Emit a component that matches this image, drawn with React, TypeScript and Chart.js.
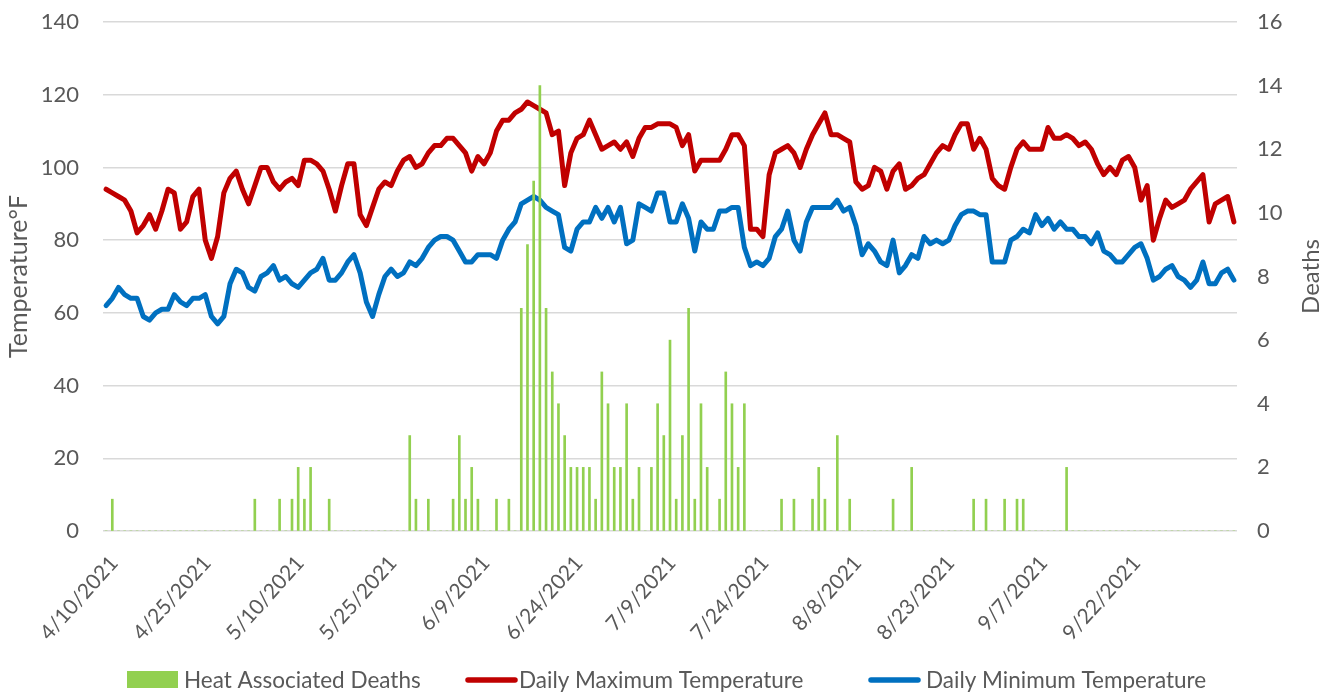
import React, { useEffect, useRef } from "react";
import { Chart, registerables } from "chart.js";

Chart.register(...registerables);

const START_DATE = "2021-04-10";
const NUM_DAYS = 183;

const TICK_LABELS = [
  "4/10/2021", "4/25/2021", "5/10/2021", "5/25/2021", "6/9/2021", "6/24/2021",
  "7/9/2021", "7/24/2021", "8/8/2021", "8/23/2021", "9/7/2021", "9/22/2021",
];

const DAILY_MAX = [
  94, 93, 92, 91, 88, 82, 84, 87, 83, 88,
  94, 93, 83, 85, 92, 94, 80, 75, 81, 93,
  97, 99, 94, 90, 95, 100, 100, 96, 94, 96,
  97, 95, 102, 102, 101, 99, 94, 88, 95, 101,
  101, 87, 84, 89, 94, 96, 95, 99, 102, 103,
  100, 101, 104, 106, 106, 108, 108, 106, 104, 99,
  103, 101, 104, 110, 113, 113, 115, 116, 118, 117,
  116, 115, 109, 110, 95, 104, 108, 109, 113, 109,
  105, 106, 107, 105, 107, 103, 108, 111, 111, 112,
  112, 112, 111, 106, 109, 99, 102, 102, 102, 102,
  105, 109, 109, 106, 83, 83, 81, 98, 104, 105,
  106, 104, 100, 105, 109, 112, 115, 109, 109, 108,
  107, 96, 94, 95, 100, 99, 94, 99, 101, 94,
  95, 97, 98, 101, 104, 106, 105, 109, 112, 112,
  105, 108, 105, 97, 95, 94, 100, 105, 107, 105,
  105, 105, 111, 108, 108, 109, 108, 106, 107, 105,
  101, 98, 100, 98, 102, 103, 100, 91, 95, 80,
  86, 91, 89, 90, 91, 94, 96, 98, 85, 90,
  91, 92, 85,
];

const DAILY_MIN = [
  62, 64, 67, 65, 64, 64, 59, 58, 60, 61,
  61, 65, 63, 62, 64, 64, 65, 59, 57, 59,
  68, 72, 71, 67, 66, 70, 71, 73, 69, 70,
  68, 67, 69, 71, 72, 75, 69, 69, 71, 74,
  76, 71, 63, 59, 65, 70, 72, 70, 71, 74,
  73, 75, 78, 80, 81, 81, 80, 77, 74, 74,
  76, 76, 76, 75, 80, 83, 85, 90, 91, 92,
  91, 89, 88, 87, 78, 77, 83, 85, 85, 89,
  86, 89, 85, 89, 79, 80, 90, 89, 88, 93,
  93, 85, 85, 90, 86, 77, 85, 83, 83, 88,
  88, 89, 89, 78, 73, 74, 73, 75, 81, 83,
  88, 80, 77, 85, 89, 89, 89, 89, 91, 88,
  89, 84, 76, 79, 77, 74, 73, 80, 71, 73,
  76, 75, 81, 79, 80, 79, 80, 84, 87, 88,
  88, 87, 87, 74, 74, 74, 80, 81, 83, 82,
  87, 84, 86, 83, 85, 83, 83, 81, 81, 79,
  82, 77, 76, 74, 74, 76, 78, 79, 75, 69,
  70, 72, 73, 70, 69, 67, 69, 74, 68, 68,
  71, 72, 69,
];

const DEATHS = [
  0, 1, 0, 0, 0, 0, 0, 0, 0, 0,
  0, 0, 0, 0, 0, 0, 0, 0, 0, 0,
  0, 0, 0, 0, 1, 0, 0, 0, 1, 0,
  1, 2, 1, 2, 0, 0, 1, 0, 0, 0,
  0, 0, 0, 0, 0, 0, 0, 0, 0, 3,
  1, 0, 1, 0, 0, 0, 1, 3, 1, 2,
  1, 0, 0, 1, 0, 1, 0, 7, 9, 11,
  14, 7, 5, 4, 3, 2, 2, 2, 2, 1,
  5, 4, 2, 2, 4, 1, 2, 0, 2, 4,
  3, 6, 1, 3, 7, 1, 4, 2, 0, 1,
  5, 4, 2, 4, 0, 0, 0, 0, 0, 1,
  0, 1, 0, 0, 1, 2, 1, 0, 3, 0,
  1, 0, 0, 0, 0, 0, 0, 1, 0, 0,
  2, 0, 0, 0, 0, 0, 0, 0, 0, 0,
  1, 0, 1, 0, 0, 1, 0, 1, 1, 0,
  0, 0, 0, 0, 0, 2, 0, 0, 0, 0,
  0, 0, 0, 0, 0, 0, 0, 0, 0, 0,
  0, 0, 0, 0, 0, 0, 0, 0, 0, 0,
  0, 0, 0,
];

function buildDates(): string[] {
  const out: string[] = [];
  const d = new Date(START_DATE + "T12:00:00");
  for (let i = 0; i < NUM_DAYS; i++) {
    out.push(`${d.getMonth() + 1}/${d.getDate()}/${d.getFullYear()}`);
    d.setDate(d.getDate() + 1);
  }
  return out;
}

const FONT = "Lato, 'Open Sans', sans-serif";
const TEXT = "#595959";
const GRID = "#d9d9d9";
const PLOT_TOP = 22;
const PLOT_BOTTOM = 531;
const LEGEND_Y = 680;
const LEGEND_FONT = 22.5;
// x start of each legend swatch and of its text
const LEGEND_SWATCH_X = [127, 465, 868];
const LEGEND_TEXT_X = [184, 519, 926];

export default function App() {
  const ref = useRef<HTMLCanvasElement | null>(null);

  useEffect(() => {
    document.body.style.margin = "0";
    const canvas = ref.current;
    if (!canvas) return;
    const labels = buildDates();

    const extras = {
      id: "extras",
      afterDraw(chart: any) {
        const { ctx, chartArea } = chart;
        ctx.save();
        // right axis title (reads bottom-to-top, like the left one)
        ctx.fillStyle = TEXT;
        ctx.font = `24px ${FONT}`;
        ctx.textAlign = "center";
        ctx.textBaseline = "middle";
        ctx.translate(1311, (chartArea.top + chartArea.bottom) / 2);
        ctx.rotate(-Math.PI / 2);
        ctx.fillText("Deaths", 0, 0);
        ctx.restore();

        // legend
        ctx.save();
        ctx.font = `${LEGEND_FONT}px ${FONT}`;
        ctx.textAlign = "left";
        ctx.textBaseline = "middle";
        chart.data.datasets.forEach((ds: any, i: number) => {
          const sx = LEGEND_SWATCH_X[i];
          if (ds.type === "bar") {
            ctx.fillStyle = ds.backgroundColor;
            ctx.fillRect(sx, LEGEND_Y - 9, 51, 17);
          } else {
            ctx.strokeStyle = ds.borderColor;
            ctx.lineWidth = 5.5;
            ctx.lineCap = "round";
            ctx.beginPath();
            ctx.moveTo(sx + 3, LEGEND_Y);
            ctx.lineTo(sx + 50, LEGEND_Y);
            ctx.stroke();
          }
          ctx.fillStyle = TEXT;
          ctx.fillText(ds.label, LEGEND_TEXT_X[i], LEGEND_Y + 1);
        });
        ctx.restore();
      },
    };

    const chart = new Chart(canvas, {
      type: "bar",
      data: {
        labels,
        datasets: [
          {
            type: "bar",
            label: "Heat Associated Deaths",
            data: DEATHS,
            backgroundColor: "#92D050",
            borderWidth: 0,
            barThickness: 2,
            yAxisID: "y1",
            order: 0,
          } as any,
          {
            type: "line",
            label: "Daily Maximum Temperature",
            data: DAILY_MAX,
            borderColor: "#C00000",
            backgroundColor: "#C00000",
            borderWidth: 5,
            borderCapStyle: "round",
            borderJoinStyle: "round",
            pointRadius: 0,
            tension: 0,
            yAxisID: "y",
            order: 1,
          },
          {
            type: "line",
            label: "Daily Minimum Temperature",
            data: DAILY_MIN,
            borderColor: "#0070C0",
            backgroundColor: "#0070C0",
            borderWidth: 5,
            borderCapStyle: "round",
            borderJoinStyle: "round",
            pointRadius: 0,
            tension: 0,
            yAxisID: "y",
            order: 2,
          },
        ],
      },
      options: {
        animation: false,
        responsive: false,
        layout: { padding: { top: PLOT_TOP, left: 0, right: 0, bottom: 0 } },
        plugins: {
          tooltip: { enabled: false },
          legend: { display: false },
        },
        scales: {
          x: {
            offset: true,
            grid: { display: false },
            border: { display: false },
            ticks: {
              autoSkip: false,
              maxRotation: 48,
              minRotation: 48,
              color: TEXT,
              font: { family: FONT, size: 21 },
              padding: 12,
              labelOffset: 8,
              callback: function (this: any, value: any) {
                const lab = this.getLabelForValue(value);
                return TICK_LABELS.includes(lab) ? lab : "";
              },
            },
            afterFit: (s: any) => {
              s.height = 692 - PLOT_BOTTOM;
              s.paddingLeft = 0;
              s.paddingRight = 0;
            },
          },
          y: {
            position: "left",
            min: 0,
            max: 140,
            ticks: {
              stepSize: 20,
              color: TEXT,
              font: { family: FONT, size: 22 },
              padding: 24,
            },
            grid: { color: GRID, lineWidth: 1.5, drawTicks: false },
            border: { display: false },
            title: {
              display: true,
              text: "Temperature°F",
              color: TEXT,
              font: { family: FONT, size: 25 },
              padding: { top: 4, bottom: 4 },
            },
            afterFit: (s: any) => {
              s.width = 103;
              s.paddingTop = 0;
              s.paddingBottom = 0;
            },
          },
          y1: {
            position: "right",
            min: 0,
            max: 16,
            ticks: {
              stepSize: 2,
              color: TEXT,
              font: { family: FONT, size: 22 },
              padding: 20,
            },
            grid: { drawOnChartArea: false, drawTicks: false },
            border: { display: false },
            afterFit: (s: any) => {
              s.width = 91;
              s.paddingTop = 0;
              s.paddingBottom = 0;
            },
          },
        },
      },
      plugins: [extras],
    });

    return () => chart.destroy();
  }, []);

  return (
    <div style={{ width: 1328, height: 692 }}>
      <canvas ref={ref} width={1328} height={692} style={{ display: "block" }} />
    </div>
  );
}
